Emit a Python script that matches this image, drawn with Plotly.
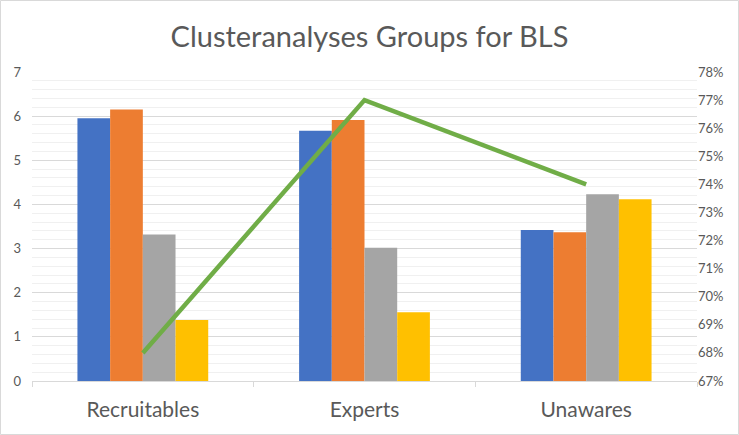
import plotly.graph_objects as go

categories = ["Recruitables", "Experts", "Unawares"]
series_blue = [5.95, 5.67, 3.42]
series_orange = [6.15, 5.91, 3.37]
series_gray = [3.32, 3.02, 4.23]
series_yellow = [1.38, 1.56, 4.12]
line_pct = [0.68, 0.77, 0.74]

colors = ["#4472C4", "#ED7D31", "#A5A5A5", "#FFC000"]
names = ["Series 1", "Series 2", "Series 3", "Series 4"]

fig = go.Figure()
for name, vals, col in zip(names, [series_blue, series_orange, series_gray, series_yellow], colors):
    fig.add_trace(go.Bar(x=categories, y=vals, name=name, marker_color=col,
                         marker_line_width=0))

fig.add_trace(go.Scatter(x=categories, y=line_pct, mode="lines", yaxis="y2",
                         line=dict(color="#70AD47", width=4.5), name="Share"))

W, H = 739, 435
ml, mr, mt, mb = 32, 42, 72, 54
pw, ph = W - ml - mr, H - mt - mb

fig.update_layout(
    width=W, height=H,
    margin=dict(l=ml, r=mr, t=mt, b=mb),
    paper_bgcolor="white", plot_bgcolor="white",
    showlegend=False,
    barmode="group", bargap=0.41, bargroupgap=0,
    font=dict(family="Lato", color="#595959"),
    title=dict(text="Clusteranalyses Groups for BLS", x=0.5, xanchor="center",
               y=1 - 37 / H, yanchor="middle",
               font=dict(family="Lato", size=29, color="#595959")),
    xaxis=dict(showline=True, linecolor="#d9d9d9", linewidth=1,
               ticks="outside", tickson="boundaries", ticklen=5, tickcolor="#d9d9d9",
               ticklabelstandoff=10,
               tickfont=dict(size=21, color="#595959"), showgrid=False),
    yaxis=dict(range=[0, 7], dtick=1, showgrid=True, gridcolor="#d9d9d9",
               minor=dict(dtick=0.2, showgrid=True, gridcolor="#f0f0f0"),
               zeroline=False, tickfont=dict(size=13, color="#595959"), ticks="",
               ticklabelstandoff=10),
    yaxis2=dict(overlaying="y", side="right", range=[0.67, 0.78], dtick=0.01,
                tickformat=".0%", showgrid=False, zeroline=False,
                tickfont=dict(size=13, color="#595959")),
    shapes=[dict(type="rect", xref="paper", yref="paper",
                 x0=-(ml - 0.5) / pw, x1=(W - ml - 0.5) / pw,
                 y0=-(mb - 0.5) / ph, y1=(H - mb - 0.5) / ph,
                 line=dict(color="#d9d9d9", width=1), layer="below")],
)

fig.write_html("out.html", config={"displayModeBar": False},
               post_script="document.body.style.margin='0';document.body.style.overflow='hidden';")
